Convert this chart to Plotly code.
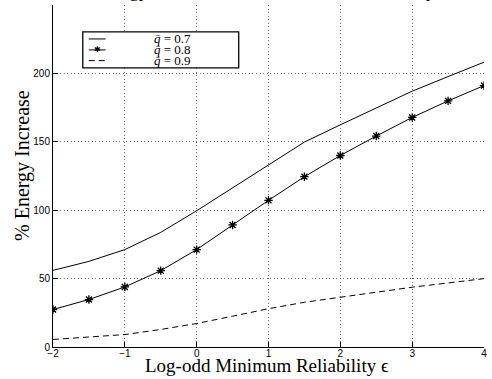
import plotly.graph_objects as go

# ---- data ----
eps = [-2, -1.5, -1, -0.5, 0, 0.5, 1, 1.5, 2, 2.5, 3, 3.5, 4]
q07 = [56, 62.6, 71.2, 83.8, 99.6, 116.3, 133.5, 149.8, 162.4, 174.8, 187.0, 197.7, 208.2]
q08 = [27.4, 34.7, 43.9, 55.8, 71.2, 89.2, 107.2, 124.5, 140.0, 154.2, 167.8, 179.9, 191.1]
q09 = [5.5, 7.2, 9.1, 12.8, 17.2, 22.5, 28.0, 32.7, 36.4, 40.3, 43.7, 46.8, 50.0]
x_ticks = [-2, -1, 0, 1, 2, 3, 4]
y_ticks = [0, 50, 100, 150, 200, 250]
legend_labels = ["<i>q\u0304</i> = 0.7", "<i>q\u0304</i> = 0.8", "<i>q\u0304</i> = 0.9"]

W, H = 492, 379
L, R, T, B = 53, 5, 5, 31.5
PW, PH = W - L - R, H - T - B

def px(x):
    return (x - L) / PW

def py(y):
    return (H - B - y) / PH

SERIF = "Liberation Serif, Times New Roman, serif"
SANS = "Liberation Sans, Arial, Helvetica, sans-serif"

fig = go.Figure()
fig.add_trace(go.Scatter(x=eps, y=q07, mode="lines", line=dict(color="black", width=1),
                         showlegend=False))
fig.add_trace(go.Scatter(x=eps, y=q08, mode="lines+markers", line=dict(color="black", width=1),
                         marker=dict(symbol="asterisk-open", size=7, color="black",
                                     line=dict(color="black", width=1.3)),
                         showlegend=False))
fig.add_trace(go.Scatter(x=eps, y=q09, mode="lines", line=dict(color="black", width=1, dash="6px,4px"),
                         showlegend=False))

# ---- manual legend box (MATLAB style) ----
shapes = [dict(type="rect", xref="paper", yref="paper", x0=px(83), x1=px(240), y0=py(68), y1=py(32),
               line=dict(color="black", width=1.3), fillcolor="white", layer="above")]
row_y = [39, 50, 60.7]
dashes = ["solid", "solid", "6px,4px"]
annotations = []
for i, lab in enumerate(legend_labels):
    shapes.append(dict(type="line", xref="paper", yref="paper", x0=px(89), x1=px(106),
                       y0=py(row_y[i]), y1=py(row_y[i]),
                       line=dict(color="black", width=1, dash=dashes[i]), layer="above"))
    annotations.append(dict(xref="paper", yref="paper", x=px(173), y=py(row_y[i]), text=lab,
                            showarrow=False, xanchor="center", yanchor="middle", borderpad=0,
                            font=dict(family=SERIF, size=13, color="black")))
annotations.append(dict(xref="paper", yref="paper", x=px(97.5), y=py(row_y[1]), text="\u2731",
                        showarrow=False, xanchor="center", yanchor="middle",
                        font=dict(family=SANS, size=8, color="black")))

# partially visible title above the top edge
annotations.append(dict(xref="paper", yref="paper", x=px(266), y=1, yshift=2,
                        text="Energy Increase versus Minimum Reliability",
                        showarrow=False, xanchor="center", yanchor="bottom",
                        font=dict(family=SERIF, size=19, color="black")))

# axis titles placed as in the reference
annotations.append(dict(xref="paper", yref="paper", x=px(268), y=py(366),
                        text="Log-odd Minimum Reliability \u03f5",
                        showarrow=False, xanchor="center", yanchor="middle",
                        font=dict(family=SERIF, size=19, color="black")))
annotations.append(dict(xref="paper", yref="paper", x=px(23), y=py(166),
                        text="% Energy Increase", textangle=-90,
                        showarrow=False, xanchor="center", yanchor="middle",
                        font=dict(family=SERIF, size=20, color="black")))

grid = dict(showgrid=True, gridcolor="#6f6f6f", griddash="1px,2.5px", gridwidth=1)

fig.update_layout(
    width=W, height=H,
    margin=dict(l=L, r=R, t=T, b=B, pad=0),
    paper_bgcolor="white", plot_bgcolor="white",
    showlegend=False,
    shapes=shapes, annotations=annotations,
    xaxis=dict(range=[-2, 4], tickvals=x_ticks, ticktext=[str(v).replace("-", "\u2212") for v in x_ticks],
               showline=True, linecolor="black", linewidth=1, mirror=False,
               ticks="inside", ticklen=5, tickcolor="black",
               zeroline=False, ticklabelstandoff=-3,
               tickfont=dict(family=SANS, size=10, color="black"), **grid),
    yaxis=dict(range=[0, 250], tickvals=y_ticks,
               showline=True, linecolor="black", linewidth=1, mirror=False,
               ticks="inside", ticklen=5, tickcolor="black",
               zeroline=False,
               tickfont=dict(family=SANS, size=10, color="black"), **grid),
)

fig.write_html("out.html", config={"displayModeBar": False},
               post_script="document.body.style.margin='0';document.body.style.overflow='hidden';")
